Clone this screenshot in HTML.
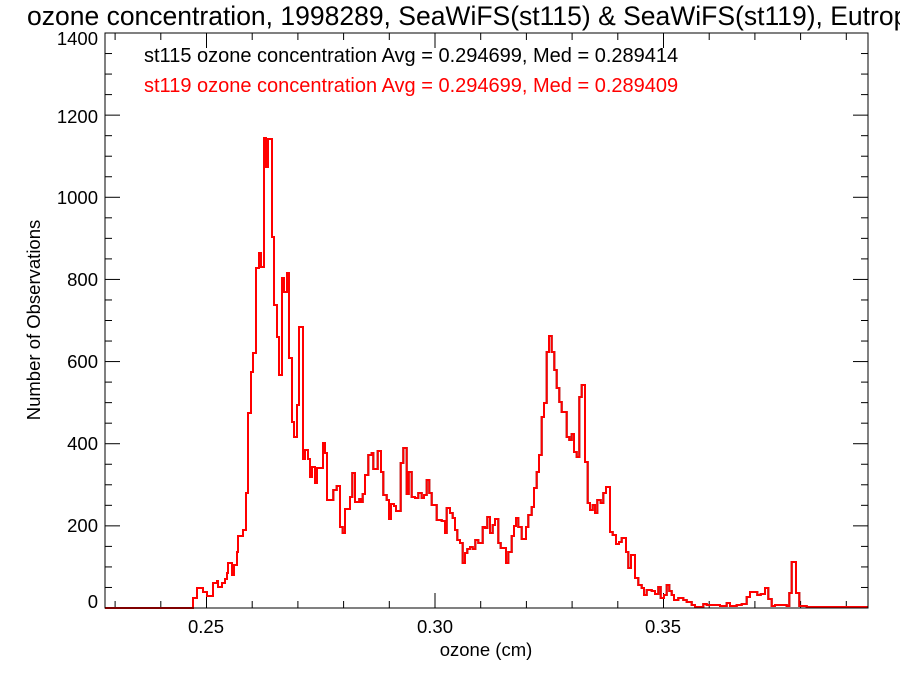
<!DOCTYPE html>
<html><head><meta charset="utf-8"><style>
html,body{margin:0;padding:0;background:#fff;}
svg{display:block;font-family:"Liberation Sans",Arial,sans-serif;}
</style></head><body>
<svg id="s" width="900" height="675" viewBox="0 0 900 675" xmlns="http://www.w3.org/2000/svg">
<rect width="900" height="675" fill="#fff"/>
<text x="27" y="25" font-size="26.5" fill="#000">ozone concentration, 1998289, SeaWiFS(st115) &amp; SeaWiFS(st119), Eutrophic</text>
<text x="144" y="62" font-size="20" fill="#000">st115 ozone concentration Avg = 0.294699, Med = 0.289414</text>
<text x="144" y="92" font-size="20" fill="#f00">st119 ozone concentration Avg = 0.294699, Med = 0.289409</text>
<g id="ticks" stroke="#000" stroke-width="1"></g>
<g font-size="18.5" text-anchor="end">
<text x="98" y="608">0</text><text x="98" y="532">200</text><text x="98" y="450">400</text>
<text x="98" y="368">600</text><text x="98" y="286">800</text><text x="98" y="204">1000</text>
<text x="98" y="123">1200</text><text x="98" y="45">1400</text>
</g>
<g font-size="18.5" text-anchor="middle">
<text x="206" y="633">0.25</text><text x="435" y="633">0.30</text><text x="663" y="633">0.35</text>
<text x="486" y="656">ozone (cm)</text>
</g>
<text transform="translate(40,320) rotate(-90)" font-size="18.5" text-anchor="middle">Number of Observations</text>
<path id="pb" fill="none" stroke="#000" stroke-width="2"/>
<path id="pr" fill="none" stroke="#f00" stroke-width="2"/>
<rect x="105" y="33" width="763" height="575" fill="none" stroke="#000" stroke-width="1"/>
</svg>
<script>
var z1=[[0,608],[33,598],[37,588],[43,592],[47,596],[53,583],[57,581],[58,587],[62,583],[65,579],[67,573],[68,563],[72,575],[74,565],[77,552],[78,536],[83,530],[86,493],[88,413],[91,372],[93,353],[96,268],[99,253],[101,267],[104,138],[106,167],[108,139],[112,237],[114,305],[117,337],[119,375],[122,278],[124,292],[127,273],[129,358],[132,422],[134,437],[137,405],[139,327],[143,459],[145,450],[148,459],[150,477],[152,467],[155,483],[157,468],[163,443],[165,453],[167,500]];
var pts=[[105,608]];
z1.forEach(function(p){pts.push([160+p[0],p[1]]);});
var z2=[[0,500],[10,490],[20,486],[30,527],[38,533],[45,509],[60,497],[67,473],[75,502],[88,499],[93,502],[98,494],[105,475],[115,455],[125,453],[130,469],[143,451],[153,472],[160,495],[170,500],[177,519],[183,504],[192,506],[198,511],[212,463],[220,448],[230,494],[236,472],[245,497],[255,498],[265,493],[275,498],[282,495],[290,480],[298,493],[305,505],[320,520],[335,521],[345,533],[350,508],[360,513],[368,518],[375,530],[382,540],[390,543],[398,563],[405,553],[412,549],[420,547],[428,549],[436,540],[445,543],[458,527],[465,528],[472,517],[480,533],[488,525],[495,519],[505,543],[512,548],[528,563],[535,552],[545,536],[552,526],[558,518],[565,527]];
z2.forEach(function(p){pts.push([330+p[0]/3,p[1]]);});
var z3=[[5,539],[18,527],[25,515],[35,507],[42,488],[50,472],[57,455],[65,417],[72,403],[80,352],[87,336],[95,352],[103,370],[110,388],[118,402],[125,412],[140,437],[148,440],[155,434],[162,452],[170,457],[178,397],[185,385],[195,462],[203,503],[210,510],[218,505],[225,513],[232,500],[242,503],[250,493],[258,487],[270,532],[278,535],[288,544],[297,542],[305,538],[318,552],[325,568],[333,555],[345,578],[355,585],[365,588],[372,595],[380,590],[395,591],[405,594],[415,587],[422,598],[432,595],[440,585],[448,591],[455,595],[462,600],[475,598],[490,600],[500,602],[515,605],[525,607],[550,604],[560,605],[580,605],[600,606],[620,603],[630,606],[650,605],[665,604],[680,597],[690,592],[700,592],[712,595],[722,594],[735,588],[745,599],[755,606],[765,605],[780,605],[800,606],[808,593],[815,562],[828,593],[838,606],[860,607],[880,607]];
z3.forEach(function(p){pts.push([520+p[0]/3,p[1]]);});
pts.push([868,607]);
var d="M"+pts[0][0]+" "+pts[0][1];
for(var i=1;i<pts.length;i++){d+=" H"+pts[i][0].toFixed(1)+" V"+pts[i][1];}
d+=" H868";
document.getElementById('pr').setAttribute('d',d);
document.getElementById('pb').setAttribute('d',d);
var g=document.getElementById('ticks'),t="";
function ln(a,b,c,e){t+='<line x1="'+a+'" y1="'+b+'" x2="'+c+'" y2="'+e+'"/>';}
for(var v=0;v<=1400;v+=50){var y=608-v*575/1400;var L=(v%200==0)?15:7;ln(105,y,105+L,y);ln(868,y,868-L,y);}
for(var k=23;k<=39;k++){var x=435+(k/100-0.3)*4570;var L=(k%5==0)?15:7;ln(x,608,x,608-L);ln(x,33,x,33+L);}
g.innerHTML=t;
</script>
</body></html>
